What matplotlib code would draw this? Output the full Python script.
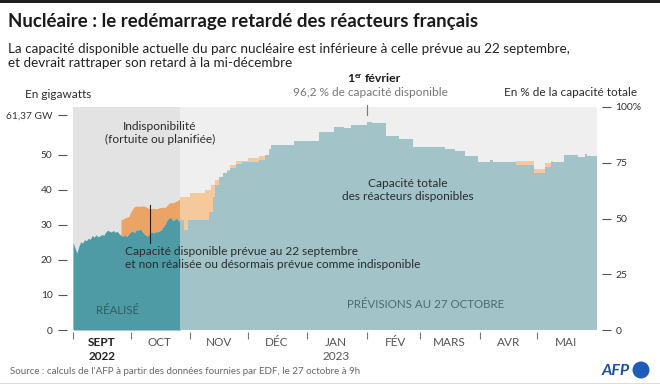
import matplotlib
matplotlib.use("Agg")
import matplotlib.pyplot as plt
from matplotlib.patches import Ellipse, Rectangle
import pandas as pd

FONT = ['Lato', 'DejaVu Sans']
plt.rcParams['font.family'] = FONT

# ---------------- DATA ----------------
# Realised available capacity (GW), daily, 1 Sept -> 27 Oct 2022
real_start, real_end = "2022-09-01", "2022-10-27"
real_gw = [25.0, 23.5, 22.0, 23.8, 25.2, 24.8, 25.8, 25.5, 26.2, 25.9,
           27.0, 26.5, 27.2, 26.6, 26.9, 27.3, 27.0, 27.9, 28.5, 28.2,
           28.0, 28.4, 27.9, 28.2, 27.5, 27.0, 26.8, 27.2, 26.7, 27.4,
           28.0, 28.3, 27.8, 28.6, 28.5, 28.9, 28.2, 27.5, 27.0, 26.8,
           27.6, 28.0, 27.7, 28.1, 28.0, 28.3, 28.6, 29.5, 30.2, 31.4,
           32.0, 32.1, 31.2, 31.6, 31.9, 31.2, 31.0]

# Capacity planned on 22 Sept for the realised period (GW), daily from 26 Sept
plan_r_start = "2022-09-26"
plan_r_gw = [31.5, 31.6, 32.0, 32.2, 32.4, 33.6, 34.6, 35.2, 35.4, 35.4,
             35.3, 35.5, 35.4, 35.2, 34.8, 34.6, 34.7, 34.8, 34.6, 34.7,
             34.9, 35.0, 35.1, 35.0, 35.6, 36.2, 36.4, 36.3, 36.6, 36.8,
             37.2, 37.4]

# Forecast at 27 Oct (GW), step changes
fc_dates = ["2022-10-27", "2022-10-29", "2022-10-31", "2022-11-11", "2022-11-13",
            "2022-11-14", "2022-11-16", "2022-11-18", "2022-11-20", "2022-11-22",
            "2022-11-25", "2022-11-28", "2022-12-07", "2022-12-10", "2022-12-12",
            "2022-12-13", "2022-12-25", "2023-01-07", "2023-01-15", "2023-01-20",
            "2023-01-24", "2023-02-01", "2023-02-04", "2023-02-11", "2023-02-18",
            "2023-02-25", "2023-03-14", "2023-03-19", "2023-03-24", "2023-03-31",
            "2023-04-06", "2023-04-08", "2023-04-20", "2023-04-29", "2023-05-05",
            "2023-05-08", "2023-05-15", "2023-05-22", "2023-05-26", "2023-05-27"]
fc_gw = [31.4, 28.6, 31.4, 33.8, 38.0,
         41.5, 43.8, 44.8, 45.4, 46.2,
         47.3, 48.0, 48.6, 50.0, 51.6,
         52.9, 54.1, 56.7, 58.1, 57.6,
         58.6, 59.5, 59.0, 55.4, 54.5,
         52.4, 51.6, 51.0, 49.6, 48.0,
         48.5, 47.9, 47.2, 44.8, 46.5,
         48.1, 50.0, 49.5, 50.4, 49.8]

# Capacity planned on 22 Sept, where it exceeds the 27 Oct forecast (GW), step changes
plan_f1_dates = ["2022-10-27", "2022-11-01", "2022-11-09", "2022-11-12", "2022-11-14",
                 "2022-11-16", "2022-11-18", "2022-11-20", "2022-11-22", "2022-11-25",
                 "2022-12-01", "2022-12-07", "2022-12-12"]
plan_f1_gw = [38.1, 39.0, 40.0, 41.5, 42.9,
              43.8, 44.5, 45.7, 47.1, 48.3,
              49.0, 49.7, 51.6]
plan_f2_dates = ["2023-04-20", "2023-04-29", "2023-05-05", "2023-05-08"]
plan_f2_gw = [48.3, 46.0, 47.6, 48.3]

month_labels = ["SEPT\n2022", "OCT", "NOV", "DÉC", "JAN\n2023", "FÉV", "MARS", "AVR", "MAI"]
left_ticks = [0, 10, 20, 30, 40, 50, 61.37]
left_ticklabels = ["0", "10", "20", "30", "40", "50", "61,37 GW"]
right_ticks = [0, 25, 50, 75, 100]
right_ticklabels = ["0", "25", "50", "75", "100%"]

# ---------------- COLOURS ----------------
C_REAL = "#4e9aa5"
C_FC = "#a2c4c8"
C_OR_D = "#eba466"
C_OR_L = "#f6c99d"
C_BG_L = "#e3e3e3"
C_BG_R = "#efefef"
C_TXT = "#2b2b2b"

W, H = 660, 384
fig = plt.figure(figsize=(W / 100, H / 100), dpi=100)
fig.patch.set_facecolor("white")


def fx(px):
    return px / W


def fy(py):
    return 1 - py / H


ax = fig.add_axes([fx(73), fy(330), (597 - 73) / W, (330 - 107) / H])

x0 = pd.Timestamp("2022-09-01")
x1 = pd.Timestamp("2023-06-01")
ymax = 63.7

# backgrounds
ax.axvspan(x0, pd.Timestamp(real_end), color=C_BG_L, lw=0, zorder=0)
ax.axvspan(pd.Timestamp(real_end), x1, color=C_BG_R, lw=0, zorder=0)

# realised
real_idx = pd.date_range(real_start, real_end, freq="D")
real = pd.Series(real_gw, index=real_idx)
plan_r = pd.Series(plan_r_gw, index=pd.date_range(plan_r_start, real_end, freq="D"))
ax.fill_between(plan_r.index, real.reindex(plan_r.index), plan_r.values,
                color=C_OR_D, lw=0, zorder=1)
ax.fill_between(real.index, 0, real.values, color=C_REAL, lw=0, zorder=2)

# forecast
grid = pd.date_range(real_end, x1, freq="D")
fc = pd.Series(fc_gw, index=pd.to_datetime(fc_dates)).reindex(grid, method="ffill")
for p_dates, p_vals in [(plan_f1_dates, plan_f1_gw), (plan_f2_dates, plan_f2_gw)]:
    s = pd.Series(p_vals, index=pd.to_datetime(p_dates))
    g = pd.date_range(s.index[0], s.index[-1] + pd.Timedelta(days=1), freq="D")
    s = s.reindex(g, method="ffill")
    ax.fill_between(g, fc.reindex(g).values, s.values, step="post",
                    color=C_OR_L, lw=0, zorder=1)
ax.fill_between(grid, 0, fc.values, step="post", color=C_FC, lw=0, zorder=2)

ax.set_xlim(x0, x1)
ax.set_ylim(0, ymax)

# spines & ticks
for sp in ax.spines.values():
    sp.set_visible(False)
ax.spines["left"].set_position(("outward", 4.3))
ax.spines["bottom"].set_position(("outward", 1.4))
ax.set_yticks(left_ticks)
ax.set_yticklabels(left_ticklabels)
ax.tick_params(axis="y", length=6.5, width=0.8, color="#555555", pad=4,
               labelsize=7.3, labelcolor="#333333")

month_starts = pd.date_range("2022-09-01", "2023-05-01", freq="MS")
mids = [m + pd.Timedelta(days=15) for m in month_starts]
ax.set_xticks(month_starts)
ax.set_xticklabels([])
ax.set_xticks(mids, minor=True)
ax.set_xticklabels(month_labels, minor=True)
ax.tick_params(axis="x", which="major", length=4.8, width=0.8, color="#777777")
ax.tick_params(axis="x", which="minor", length=0, pad=4, labelsize=8.5,
               labelcolor="#555555")
for i, lab in enumerate(ax.get_xticklabels(minor=True)):
    lab.set_linespacing(1.25)
    if i == 0:
        lab.set_fontweight("bold")
        lab.set_color("#222222")

ax2 = ax.twinx()
ax2.set_ylim(0, 100)
for sp in ax2.spines.values():
    sp.set_visible(False)
ax2.spines["right"].set_position(("outward", 3.6))
ax2.set_yticks(right_ticks)
ax2.set_yticklabels(right_ticklabels)
ax2.tick_params(axis="y", length=6.2, width=0.8, color="#555555", pad=3.5,
                labelsize=7.5, labelcolor="#333333")

# annotation lines
ax.plot([pd.Timestamp("2022-10-11")] * 2, [24.9, 35.7], color="#222222", lw=0.8, zorder=3)
ax.plot([pd.Timestamp("2023-02-01")] * 2, [61.4, 64.3], color="#777777", lw=0.8,
        zorder=3, clip_on=False)

# texts in plot
fig.text(fx(160), fy(133), "Indisponibilité\n(fortuite ou planifiée)", ha="center",
         va="center", fontsize=8.6, color=C_TXT, linespacing=1.2)
fig.text(fx(408), fy(190), "Capacité totale\ndes réacteurs disponibles", ha="center",
         va="center", fontsize=8.6, color=C_TXT, linespacing=1.2)
fig.text(fx(125), fy(258), "Capacité disponible prévue au 22 septembre\n"
         "et non réalisée ou désormais prévue comme indisponible",
         ha="left", va="center", fontsize=8.6, color=C_TXT, linespacing=1.2)
fig.text(fx(96), fy(310), "RÉALISÉ", ha="left", va="center", fontsize=8.3,
         color="#2f5e64")
fig.text(fx(347), fy(305), "PRÉVISIONS AU 27 OCTOBRE", ha="left", va="center",
         fontsize=8.3, color="#4a6a6e")

# header texts
fig.text(fx(8), fy(22), "Nucléaire : le redémarrage retardé des réacteurs français",
         ha="left", va="center", fontsize=13.4, fontweight="bold", color="#1a1a1a")
fig.text(fx(8), fy(56), "La capacité disponible actuelle du parc nucléaire est inférieure "
         "à celle prévue au 22 septembre,\net devrait rattraper son retard à la mi-décembre",
         ha="left", va="center", fontsize=9.7, color="#222222", linespacing=1.15)
fig.text(fx(25), fy(94), "En gigawatts", ha="left", va="center", fontsize=8.5, color=C_TXT)
fig.text(fx(637), fy(92), "En % de la capacité totale", ha="right", va="center",
         fontsize=8.5, color=C_TXT)

# "1er février" built from three pieces placed side by side
renderer = fig.canvas.get_renderer()
t_one = fig.text(fx(347), fy(78), "1", ha="left", va="center", fontsize=8.8,
                 fontweight="bold", color="#1a1a1a")
bb = t_one.get_window_extent(renderer)
t_er = fig.text(bb.x1 / W + 0.5 / W, fy(75), "er", ha="left", va="center", fontsize=5.8,
                fontweight="bold", color="#1a1a1a")
bb2 = t_er.get_window_extent(renderer)
fig.text(bb2.x1 / W + 2.5 / W, fy(78), "février", ha="left", va="center", fontsize=8.8,
         fontweight="bold", color="#1a1a1a")
fig.text(fx(370), fy(93), "96,2 % de capacité disponible", ha="center", va="center",
         fontsize=8.6, color="#777777")

# footer
fig.text(fx(10), fy(371), "Source : calculs de l'AFP à partir des données fournies par "
         "EDF, le 27 octobre à 9h", ha="left", va="center", fontsize=7, color="#666666")
fig.text(fx(630), fy(371), "AFP", ha="right", va="center", fontsize=11.5,
         fontweight="bold", fontstyle="italic", color="#1c4f9c")
fig.add_artist(Ellipse((fx(641), fy(370)), 17 / W, 17 / H, transform=fig.transFigure,
                       color="#1f5cb8", lw=0))

# top bar and bottom rule
fig.add_artist(Rectangle((0, fy(3)), 1, 3 / H, transform=fig.transFigure,
                         color="#1e1e1e", lw=0))
fig.add_artist(Rectangle((0, 0), 1, 1 / H, transform=fig.transFigure,
                         color="#dddddd", lw=0))

fig.savefig("out.png", dpi=100, facecolor="white")
